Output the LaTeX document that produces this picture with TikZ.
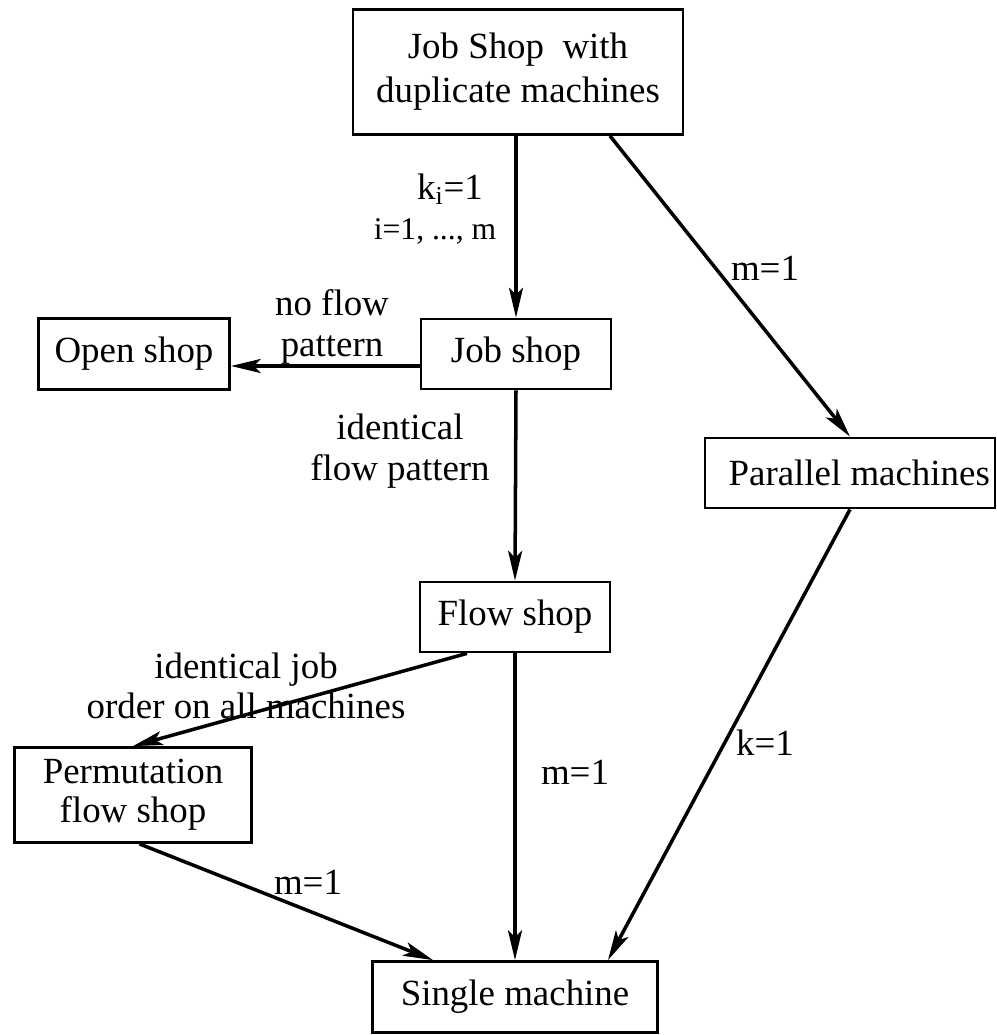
\documentclass[tikz,border=0pt]{standalone}
\usepackage{fontspec}
\setmainfont{Liberation Serif}
\usetikzlibrary{arrows.meta}

\begin{document}
\begin{tikzpicture}[x=0.02cm, y=-0.02cm,
  box/.style={draw, line width=1.6pt, inner sep=0pt, align=center,
              font=\fontsize{21}{25}\selectfont},
  lbl/.style={align=center, inner sep=0pt, font=\fontsize{21}{23}\selectfont},
  ar/.style={line width=2pt, -{Stealth[length=17pt, width=8pt, inset=4pt]}},
]
\useasboundingbox (0,0) rectangle (997,1035);

\node[box, minimum width=6.6cm, minimum height=2.5cm]  (jsd)    at (518, 72)  {Job Shop\ \ with\\duplicate machines};
\node[box, minimum width=3.82cm, minimum height=1.42cm] (open)  at (134, 354) {Open shop};
\node[box, minimum width=3.8cm, minimum height=1.4cm]  (job)    at (516, 354) {Job shop};
\node[box, minimum width=5.8cm, minimum height=1.4cm]  (par)    at (850, 473) {\ \ Parallel machines};
\node[box, minimum width=3.8cm, minimum height=1.4cm]  (flow)   at (515, 617) {Flow shop};
\node[box, minimum width=4.74cm, minimum height=1.9cm,
      font=\fontsize{21}{22}\selectfont]               (perm)   at (133, 795) {Permutation\\flow shop};
\node[box, minimum width=5.7cm, minimum height=1.42cm] (single) at (515, 997) {Single machine};

\draw[ar] (jsd.south -| job.north) -- (job.north);
\draw[ar] ([xshift=1.84cm]jsd.south) -- (par.north);
\draw[ar] ([yshift=-0.24cm]job.west) -- ([yshift=-0.24cm]open.east);
\draw[ar] (job.south) -- (flow.north);
\draw[ar] ([xshift=-0.96cm]flow.south) -- (perm.north);
\draw[ar] (flow.south) -- (single.north);
\draw[ar] (par.south) -- ([xshift=1.86cm]single.north);
\draw[ar] ([xshift=0.13cm]perm.south) -- ([xshift=-1.64cm]single.north);

% edge labels
\node[lbl] (ki)     at (450, 189) {k\textsubscript{i}=1};
\node[lbl, font=\fontsize{18}{20}\selectfont] (irange) at (435, 231) {i=1, ..., m};
\node[lbl] (mtop)   at (765, 268) {m=1};
\node[lbl] (noflow) at (332, 327) {no flow\\pattern};
\node[lbl] (idflow) at (400, 451) {identical\\flow pattern};
\node[lbl] (idjob)  at (246, 686) {identical job\\order on all machines};
\node[lbl] (mflow)  at (575, 772) {m=1};
\node[lbl] (kpar)   at (765, 743) {k=1};
\node[lbl] (mperm)  at (308, 882) {m=1};
\end{tikzpicture}
\end{document}
